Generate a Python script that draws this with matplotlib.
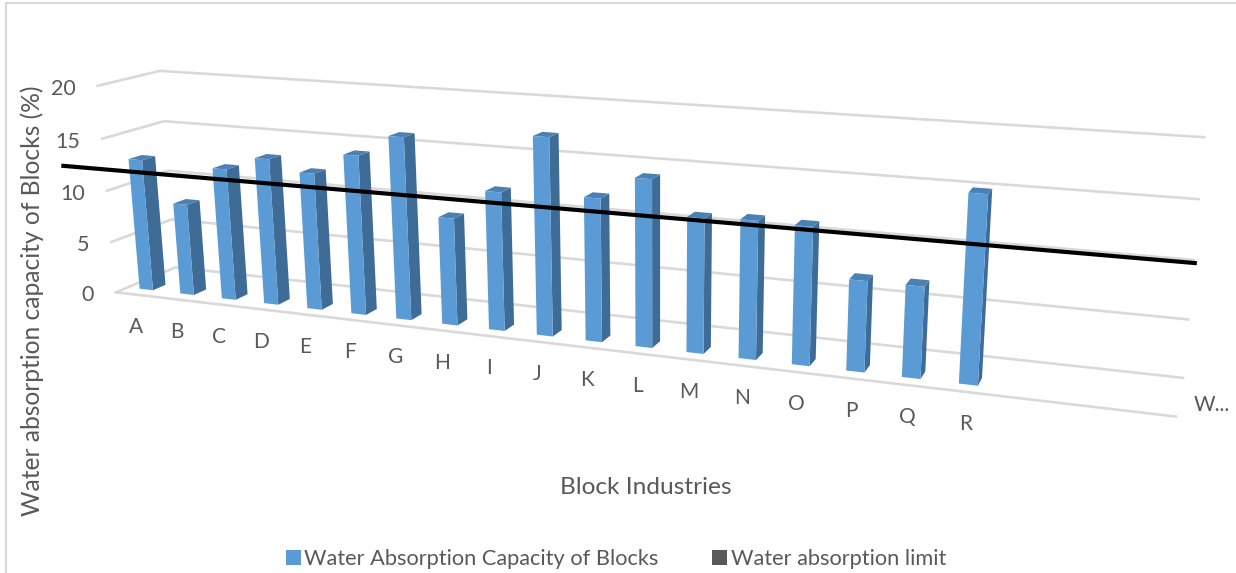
import numpy as np
import matplotlib
matplotlib.use('Agg')
import matplotlib.pyplot as plt
from matplotlib.patches import Patch, Polygon

plt.rcParams['font.family'] = ['Lato', 'DejaVu Sans']

categories = ['A', 'B', 'C', 'D', 'E', 'F', 'G', 'H', 'I', 'J', 'K', 'L', 'M',
              'N', 'O', 'P', 'Q', 'R', 'W...']
absorption = [12.8, 8.85, 12.6, 13.9, 12.9, 14.9, 16.9, 9.9, 12.65, 17.85, 12.85,
              14.9, 11.9, 12.1, 12.0, 7.85, 7.85, 15.85]
value_ticks = [0, 5, 10, 15, 20]
limit_x = [-0.133, 1.003]
limit_v = [9.55, 9.75]

GRID = '#D9D9D9'
TEXT = '#595959'
FRONT = '#5B9BD5'
SIDE = '#3F6C96'
TOP = '#4A80B2'

# Corners of the 3D box as seen in the picture: (x, depth, value) -> pixel
box_3d = [(0, 0, 0), (0, 0, 5), (0, 0, 10), (0, 0, 15), (0, 0, 20),
          (0, 1, 0), (0, 1, 5), (0, 1, 10), (0, 1, 15), (0, 1, 20),
          (1, 1, 0), (1, 1, 5), (1, 1, 10), (1, 1, 15), (1, 1, 20),
          (1, 0, 0)]
box_px = [(116, 293), (111, 242), (107, 190), (103, 139), (97, 86),
          (175, 267), (173, 219), (167, 171), (164, 121), (160, 71),
          (1183, 378), (1188, 320), (1193, 260), (1199, 199), (1204, 137),
          (1176, 416)]

# Solve the camera matrix for the Excel style perspective
rows, rhs = [], []
for (x, d, v), (u, w) in zip(box_3d, box_px):
    p = [x, d, v / 20, 1]
    rows.append(p + [0, 0, 0, 0] + [-u * c for c in p[:3]])
    rhs.append(u)
    rows.append([0, 0, 0, 0] + p + [-w * c for c in p[:3]])
    rhs.append(w)
sol = np.linalg.lstsq(np.array(rows, float), np.array(rhs, float), rcond=None)[0]
cam = np.append(sol, 1).reshape(3, 4)


def project(x, d, v):
    h = cam @ np.array([x, d, v / 20, 1])
    return h[0] / h[2], h[1] / h[2]


fig = plt.figure(figsize=(12.36, 5.73), dpi=100)
ax = fig.add_axes([0, 0, 1, 1])
ax.set_xlim(0, 1236)
ax.set_ylim(573, 0)
ax.axis('off')

# chart area border
ax.plot([6, 6, 1236], [573, 3, 3], color=GRID, lw=1.5)

# walls and floor
for v in value_ticks:
    pts = [project(0, 0, v), project(0, 1, v), project(1, 1, v)]
    ax.plot(*zip(*pts), color=GRID, lw=1.9, zorder=1, solid_joinstyle='miter')
    u, w = project(0, 0, v)
    ax.text(u - 22, w + 3, str(v), ha='right', va='center', color=TEXT, fontsize=15.5)
ax.plot(*zip(project(0, 0, 0), project(1, 0, 0)), color=GRID, lw=1.9, zorder=1)

# bars
slots = 20.93
first = 0.46
bar_w = 0.33
d0, d1 = 0.19, 0.40
for i, val in enumerate(absorption):
    x0 = (i + first - bar_w / 2) / slots
    x1 = (i + first + bar_w / 2) / slots
    front = [project(x0, d0, 0), project(x1, d0, 0), project(x1, d0, val), project(x0, d0, val)]
    side = [project(x1, d0, 0), project(x1, d1, 0), project(x1, d1, val), project(x1, d0, val)]
    top = [project(x0, d0, val), project(x1, d0, val), project(x1, d1, val), project(x0, d1, val)]
    ax.add_patch(Polygon(side, fc=SIDE, ec='none', zorder=3))
    ax.add_patch(Polygon(top, fc=TOP, ec='none', zorder=3))
    ax.add_patch(Polygon(front, fc=FRONT, ec='none', zorder=3))

# limit line runs along the back wall
lim = [project(x, 1, v) for x, v in zip(limit_x, limit_v)]
ax.plot(*zip(*lim), color='black', lw=3, zorder=5, solid_capstyle='butt')

# category labels under the floor edge
for i, lab in enumerate(categories):
    u, w = project((i + first) / slots, 0, 0)
    if lab == 'W...':
        ax.text(1212, 405, lab, ha='center', va='center', color=TEXT, fontsize=15)
    else:
        ax.text(u + 1, w + 32.5, lab, ha='center', va='center', color=TEXT, fontsize=15)

ax.text(646, 487, 'Block Industries', ha='center', va='center', color=TEXT, fontsize=17.6)
ax.text(32, 301, 'Water absorption capacity of Blocks (%)', rotation=90, ha='center',
        va='center', color=TEXT, fontsize=17.7)

handles = [Patch(fc=FRONT, label='Water Absorption Capacity of Blocks'),
           Patch(fc='#595959', label='Water absorption limit')]
ax.legend(handles=handles, ncol=2, loc='center', bbox_to_anchor=(616, 559),
          bbox_transform=ax.transData, frameon=False, fontsize=15.7, labelcolor=TEXT,
          handlelength=0.7, handleheight=0.7, handletextpad=0.15, columnspacing=2.45)

fig.savefig('out.png', dpi=100)
